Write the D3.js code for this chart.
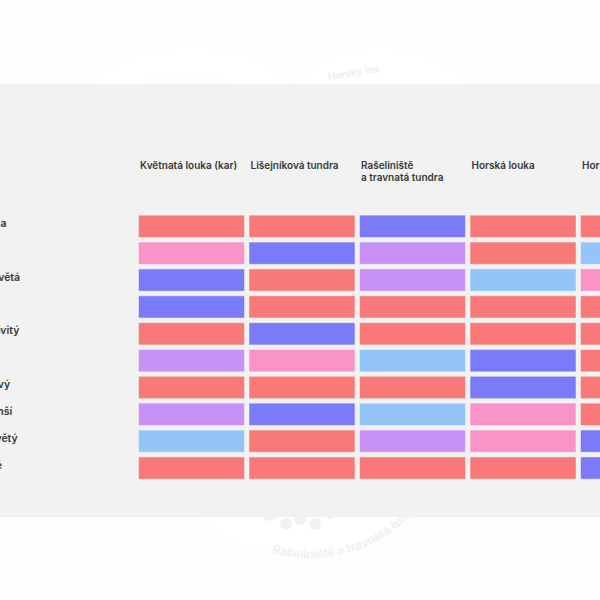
<!DOCTYPE html>
<html>
<head>
<meta charset="utf-8">
<script src="https://cdn.jsdelivr.net/npm/d3@7"></script>
<style>
  html, body { margin: 0; padding: 0; background: #fdfdfd; overflow: hidden; }
  svg { display: block; }
  text { font-family: Inter, Roboto, "Noto Sans", sans-serif; }
</style>
</head>
<body>
<div id="chart"></div>
<script>
// ---- data ----
const habitats = ["Květnatá louka (kar)", "Lišejníková tundra", "Rašeliniště\na travnatá tundra", "Horská louka", "Horský les"];
const species = [
  "Brusinka a borůvka",
  "Vřes obecný",
  "Sasanka narcisokvětá",
  "Smilka tuhá",
  "Jestřábník hroznovitý",
  "Rdesno hadí",
  "Pryskyřník hnědavý",
  "Pryskyřník nejmenší",
  "Hořeček mnohokvětý",
  "Lišejníky tundrové"
];
const classes = ["A", "B", "C", "D", "E"];
const classColors = ["#f97878", "#f993c8", "#7b7bf9", "#c891f8", "#93c5f8"];
// class per species (rows) for each habitat (columns)
const colKvetnata   = ["A", "B", "C", "C", "A", "D", "A", "D", "E", "A"];
const colLisejnik   = ["A", "C", "A", "A", "C", "B", "A", "C", "A", "A"];
const colRaselinist = ["C", "D", "D", "A", "A", "E", "A", "E", "D", "A"];
const colHorskaLouka= ["A", "A", "E", "A", "A", "C", "C", "B", "B", "A"];
const colHorskyLes  = ["A", "E", "B", "A", "A", "A", "A", "A", "C", "C"];
const columns = [colKvetnata, colLisejnik, colRaselinist, colHorskaLouka, colHorskyLes];

const W = 600, H = 600;
const svg = d3.select("#chart").append("svg").attr("width", W).attr("height", H);

// ---- faint decorative background ----
const deco = svg.append("g");
deco.append("ellipse").attr("cx", 190).attr("cy", 112).attr("rx", 108).attr("ry", 64).attr("fill", "#ffffff");
deco.append("ellipse").attr("cx", 382).attr("cy", 112).attr("rx", 92).attr("ry", 64).attr("fill", "#ffffff");
deco.append("ellipse").attr("cx", 185).attr("cy", 110).attr("rx", 70).attr("ry", 38).attr("fill", "#fdfdff");
deco.append("text").attr("transform", "translate(354,76) rotate(-9)")
  .attr("text-anchor", "middle").attr("font-size", 10).attr("font-weight", 700)
  .attr("fill", "#efefef").text("Horský les");
deco.append("circle").attr("cx", 302).attr("cy", 399).attr("r", 156).attr("fill", "#ffffff");
const arcId = "decoArc";
deco.append("path").attr("id", arcId).attr("fill", "none")
  .attr("d", "M 226 530 A 140 140 0 0 0 440 470");
deco.append("text").attr("font-size", 12).attr("font-weight", 700).attr("fill", "#f1f1f1")
  .append("textPath").attr("href", "#" + arcId).attr("startOffset", "20%")
  .text("Rašeliniště a travnatá tundra");
[[270, 514, 7], [286, 524, 6], [300, 519, 6], [315, 524, 6], [330, 512, 7]].forEach(c =>
  deco.append("circle").attr("cx", c[0]).attr("cy", c[1]).attr("r", c[2]).attr("fill", "#f2f2f2"));

// ---- panel ----
svg.append("rect").attr("x", 0).attr("y", 84).attr("width", W).attr("height", 433).attr("fill", "#f2f2f2");

// ---- scales ----
const x = d3.scaleBand().domain(habitats).range([139, 686]).paddingInner(0.05).paddingOuter(0);
const y = d3.scaleBand().domain(species).range([215.7, 478.7]).paddingInner(0.207).paddingOuter(0);
const color = d3.scaleOrdinal().domain(classes).range(classColors);

// ---- column headers ----
const hdr = svg.append("g");
habitats.forEach(h => {
  const t = hdr.append("text").attr("x", x(h) + 1).attr("y", 169)
    .attr("font-size", 10).attr("font-weight", 600).attr("fill", "#383838");
  h.split("\n").forEach((line, i) => {
    t.append("tspan").attr("x", x(h) + 1).attr("dy", i === 0 ? 0 : 12).text(line);
  });
});

// ---- row labels ----
const labelX = -91;
svg.append("g").selectAll("text").data(species).join("text")
  .attr("x", labelX).attr("y", d => y(d) + y.bandwidth() / 2 + 0.5)
  .attr("font-size", 10.5).attr("font-weight", 600).attr("fill", "#383838")
  .text(d => d);

// ---- cells ----
const cells = [];
columns.forEach((col, ci) => col.forEach((cls, ri) => cells.push({h: habitats[ci], s: species[ri], cls})));
svg.append("g").selectAll("rect").data(cells).join("rect")
  .attr("x", d => x(d.h)).attr("y", d => y(d.s))
  .attr("width", x.bandwidth()).attr("height", y.bandwidth())
  .attr("fill", d => color(d.cls))
  .attr("stroke", d => color(d.cls)).attr("stroke-opacity", 0.45).attr("stroke-width", 1);
</script>
</body>
</html>
